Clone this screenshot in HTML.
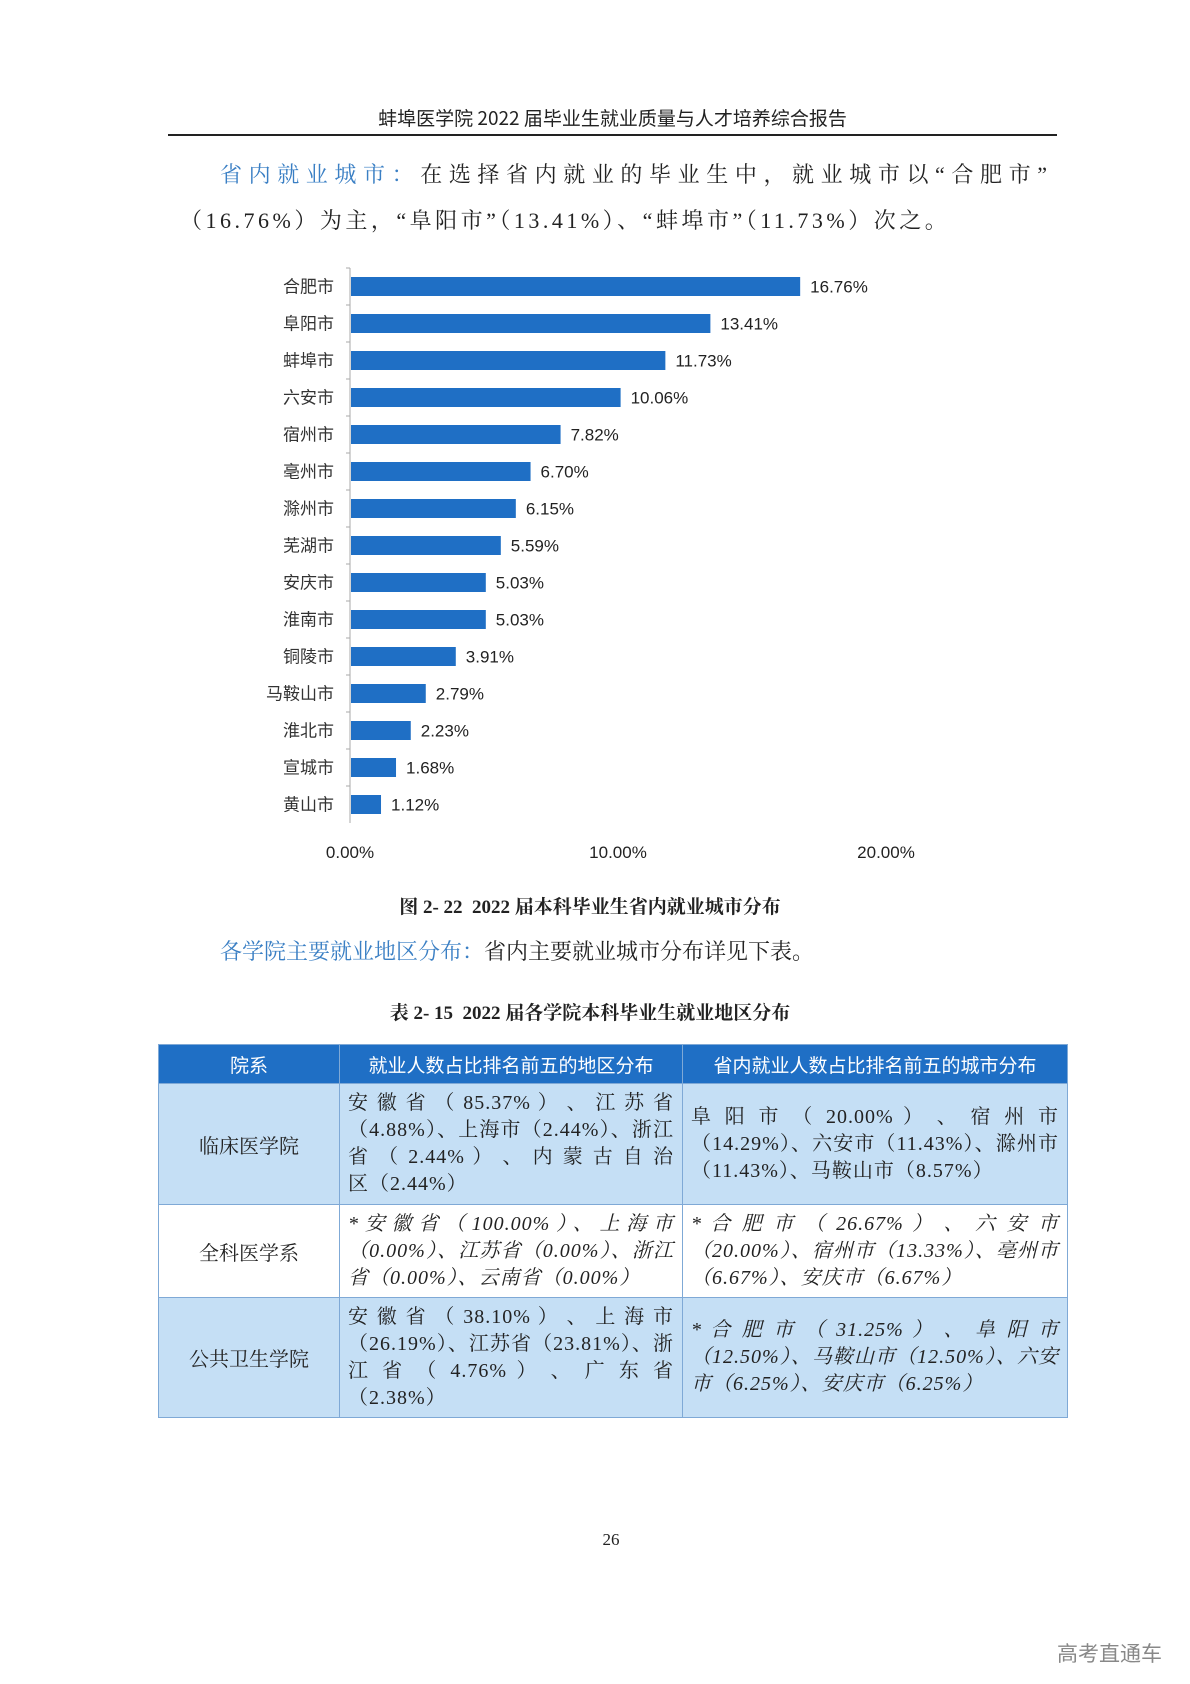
<!DOCTYPE html>
<html><head><meta charset="utf-8">
<style>
body{margin:0;background:#fff;}
#page{position:relative;width:1190px;height:1684px;overflow:hidden;font-family:"Liberation Serif","Noto Serif CJK SC","Noto Sans CJK SC",serif;color:#222;}
.abs{position:absolute;}
.blue{color:#3a7fc4;}
td,th{border:1px solid #7fa9d6;padding:0 8px;vertical-align:middle;font-weight:normal;}
table{border-collapse:collapse;}
.cell{text-align:justify;text-align-last:left;line-height:27px;font-size:20px;letter-spacing:1px;}
</style></head><body>
<div id="page">
<div class="abs" style="left:168px;top:104px;width:889px;text-align:center;font-size:19px;font-family:'Noto Sans CJK SC',sans-serif;">蚌埠医学院 2022 届毕业生就业质量与人才培养综合报告</div>
<div class="abs" style="left:168px;top:134px;width:889px;height:2px;background:#222;"></div>
<div class="abs" style="left:180px;top:152px;width:870px;font-size:22px;line-height:46px;text-align:justify;text-align-last:justify;letter-spacing:3px;">
<span style="padding-left:40px" class="blue">省内就业城市：</span>在选择省内就业的毕业生中，就业城市以“合肥市”</div>
<div class="abs" style="left:180px;top:204px;width:900px;font-size:22px;letter-spacing:3.5px;white-space:nowrap;">（16.76%）为主，“阜阳市”（13.41%）、“蚌埠市”（11.73%）次之。</div>

<svg class="abs" style="left:0;top:0" width="1190" height="900" id="chart"></svg>

<div class="abs" style="left:0;top:892px;width:1180px;text-align:center;font-size:19px;font-weight:bold;">图 2- 22&nbsp; 2022 届本科毕业生省内就业城市分布</div>
<div class="abs" style="left:220px;top:935px;font-size:22px;white-space:nowrap;"><span class="blue">各学院主要就业地区分布：</span>省内主要就业城市分布详见下表。</div>
<div class="abs" style="left:0;top:998px;width:1180px;text-align:center;font-size:19px;font-weight:bold;">表 2- 15&nbsp; 2022 届各学院本科毕业生就业地区分布</div>

<table class="abs" style="left:158px;top:1044px;width:910px;font-size:20px;">
<tr style="height:39px;background:#1f6fc5;color:#fff;">
<th style="width:164px;font-family:'Noto Sans CJK SC',sans-serif;font-size:19px;">院系</th>
<th style="width:326px;font-family:'Noto Sans CJK SC',sans-serif;font-size:19px;">就业人数占比排名前五的地区分布</th>
<th style="font-family:'Noto Sans CJK SC',sans-serif;font-size:19px;">省内就业人数占比排名前五的城市分布</th></tr>
<tr style="height:121px;background:#c5dff5;">
<td style="text-align:center">临床医学院</td>
<td class="cell">安 徽 省 （ 85.37% ） 、 江 苏 省（4.88%）、上海市（2.44%）、浙江 省 （ 2.44% ） 、 内 蒙 古 自 治 区（2.44%）</td>
<td class="cell">阜 阳 市 （ 20.00% ） 、 宿 州 市（14.29%）、六安市（11.43%）、滁州市（11.43%）、马鞍山市（8.57%）</td></tr>
<tr style="height:93px;background:#fff;">
<td style="text-align:center">全科医学系</td>
<td class="cell" style="font-style:italic">*安徽省（100.00%）、上海市（0.00%）、江苏省（0.00%）、浙江省（0.00%）、云南省（0.00%）</td>
<td class="cell" style="font-style:italic">* 合 肥 市 （ 26.67% ） 、 六 安 市（20.00%）、宿州市（13.33%）、亳州市（6.67%）、安庆市（6.67%）</td></tr>
<tr style="height:120px;background:#c5dff5;">
<td style="text-align:center">公共卫生学院</td>
<td class="cell">安 徽 省 （ 38.10% ） 、 上 海 市（26.19%）、江苏省（23.81%）、浙 江 省 （ 4.76% ） 、 广 东 省（2.38%）</td>
<td class="cell" style="font-style:italic">* 合 肥 市 （ 31.25% ） 、 阜 阳 市（12.50%）、马鞍山市（12.50%）、六安市（6.25%）、安庆市（6.25%）</td></tr>
</table>

<div class="abs" style="left:0;top:1530px;width:1222px;text-align:center;font-size:17px;">26</div>
<div class="abs" style="left:1057px;top:1638px;font-size:21px;color:#888;font-family:'Noto Sans CJK SC',sans-serif;">高考直通车</div>
</div>
<script>
const categories=["合肥市","阜阳市","蚌埠市","六安市","宿州市","亳州市","滁州市","芜湖市","安庆市","淮南市","铜陵市","马鞍山市","淮北市","宣城市","黄山市"];
const values=[16.76,13.41,11.73,10.06,7.82,6.70,6.15,5.59,5.03,5.03,3.91,2.79,2.23,1.68,1.12];
const valueLabels=["16.76%","13.41%","11.73%","10.06%","7.82%","6.70%","6.15%","5.59%","5.03%","5.03%","3.91%","2.79%","2.23%","1.68%","1.12%"];
const ticks=[0,10,20];
const tickLabels=["0.00%","10.00%","20.00%"];
const svg=document.getElementById('chart');
const NS='http://www.w3.org/2000/svg';
const x0=350,x1=886,top0=268,bottom0=823;
const xs=v=>x0+(v-ticks[0])/(ticks[ticks.length-1]-ticks[0])*(x1-x0);
const band=(bottom0-top0)/categories.length;
const ys=i=>top0+band*(i+0.5);
function mk(t,a){const e=document.createElementNS(NS,t);for(const k in a)e.setAttribute(k,a[k]);svg.appendChild(e);return e;}
const ax=mk('line',{x1:x0,y1:top0,x2:x0,y2:bottom0,stroke:'#aaa','stroke-width':1});


categories.forEach((c,i)=>{
  const y=ys(i);
  const r=mk('rect',{x:x0+1,y:y-9.5,width:xs(values[i])-x0,height:19,fill:'#1f6fc5'});
  
  
  const l=mk('text',{x:334,y:y+6,'text-anchor':'end','font-size':17,fill:'#333','font-family':'"Noto Sans CJK SC",sans-serif'});
  l.textContent=c;
  
  
  const v=mk('text',{x:xs(values[i])+11,y:y+6,'font-size':17,fill:'#222','font-family':'"Liberation Sans",sans-serif'});
  v.textContent=valueLabels[i];
  
  
  const tk=mk('line',{x1:x0-4,y1:top0+band*i,x2:x0,y2:top0+band*i,stroke:'#aaa'});
  
  
});
ticks.forEach((t,i)=>{
  const e=mk('text',{x:xs(t),y:858,'text-anchor':'middle','font-size':17,fill:'#222','font-family':'"Liberation Sans",sans-serif'});
  e.textContent=tickLabels[i];
  
  
});
</script>
</body></html>
